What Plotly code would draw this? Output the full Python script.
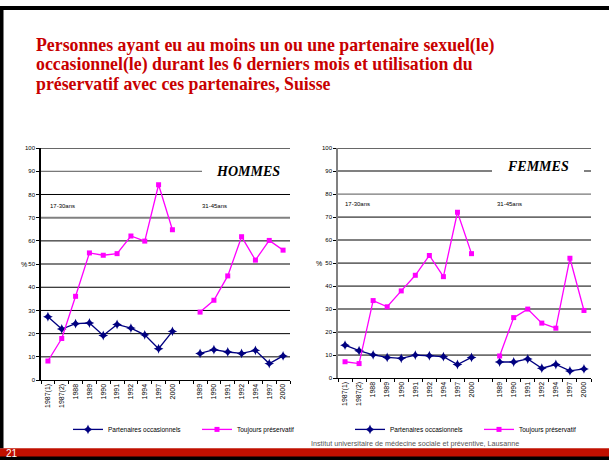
import plotly.graph_objects as go

W, H = 609, 463

categories = ["1987(1)", "1987(2)", "1988", "1989", "1990", "1991", "1992", "1994", "1997", "2000",
              "", "1989", "1990", "1991", "1992", "1994", "1997", "2000"]

hommes_partenaires = [27.3, 22.0, 24.3, 24.6, 19.2, 24.0, 22.4, 19.5, 13.5, 21.0,
                      None, 11.5, 13.1, 12.1, 11.5, 12.8, 7.1, 10.4]
hommes_preservatif = [8.2, 17.9, 36.1, 54.8, 53.8, 54.5, 62.1, 59.9, 84.2, 64.8,
                      None, 29.3, 34.4, 44.9, 61.8, 51.7, 60.2, 56.0]
femmes_partenaires = [14.3, 11.9, 10.1, 9.0, 8.6, 10.0, 9.7, 9.3, 5.9, 9.0,
                      None, 7.0, 7.0, 8.3, 4.3, 5.9, 3.1, 4.0]
femmes_preservatif = [7.1, 6.3, 33.7, 31.0, 37.9, 44.7, 53.3, 44.1, 72.1, 54.1,
                      None, 9.6, 26.3, 30.0, 23.9, 21.7, 52.1, 29.4]

title_lines = ["Personnes ayant eu au moins un ou une partenaire sexuel(le)",
               "occasionnel(le) durant les 6 derniers mois et utilisation du",
               "préservatif avec ces partenaires, Suisse"]

NAVY = "#000080"
MAGENTA = "#FF00FF"
RED = "#C80000"
NARROW = "Liberation Sans Narrow, Arial Narrow, Liberation Sans, Arial"
SANS = "Liberation Sans, Arial"
SERIF = "Liberation Serif, Times New Roman, serif"


def px_x(x):
    return x / W


def px_y(y):
    return 1 - y / H


xs = list(range(len(categories)))
fig = go.Figure()

panels = [
    ("x", "y", "legend", hommes_partenaires, hommes_preservatif),
    ("x2", "y2", "legend2", femmes_partenaires, femmes_preservatif),
]
for xa, ya, leg, part, pres in panels:
    fig.add_trace(go.Scatter(
        x=xs, y=part, xaxis=xa, yaxis=ya, legend=leg,
        name="Partenaires occasionnels", mode="lines+markers",
        line=dict(color=NAVY, width=1.3),
        marker=dict(symbol="star-diamond", size=7, color=NAVY),
    ))
    fig.add_trace(go.Scatter(
        x=xs, y=pres, xaxis=xa, yaxis=ya, legend=leg,
        name="Toujours préservatif", mode="lines+markers",
        line=dict(color=MAGENTA, width=1.3),
        marker=dict(symbol="square", size=5, color=MAGENTA),
    ))

xaxis_common = dict(
    range=[-0.5, len(categories) - 0.5],
    tickmode="array", tickvals=xs, ticktext=categories,
    tickangle=-90, ticks="", showgrid=False, zeroline=False,
    showline=True, linecolor="black", linewidth=1,
    tickfont=dict(family=SANS, size=7, color="black"),
    minor=dict(tickmode="linear", tick0=-0.5, dtick=1, ticks="outside",
               ticklen=3, tickcolor="black", showgrid=False),
)
yaxis_common = dict(
    range=[0, 100], dtick=10, showgrid=False,
    zeroline=False, ticks="outside", ticklen=3, tickcolor="black",
    showline=True, linewidth=1.5,
    tickfont=dict(family=NARROW, size=6, color="black"),
)

legend_common = dict(orientation="h", xanchor="left", yanchor="middle",
                     entrywidth=84, entrywidthmode="pixels", itemwidth=30,
                     bgcolor="rgba(0,0,0,0)", font=dict(family=NARROW, size=6.5, color="black"))

fig.update_layout(
    width=W, height=H,
    margin=dict(l=0, r=0, t=0, b=0),
    paper_bgcolor="white", plot_bgcolor="white",
    xaxis=dict(domain=[px_x(41), px_x(290)], anchor="y", **xaxis_common),
    yaxis=dict(domain=[px_y(382), px_y(147)], anchor="x", linecolor="black", **yaxis_common),
    xaxis2=dict(domain=[px_x(338), px_x(591)], anchor="y2", **xaxis_common),
    yaxis2=dict(domain=[px_y(380), px_y(147)], anchor="x2", linecolor="#808080", **yaxis_common),
    legend=dict(x=px_x(68), y=px_y(432), **legend_common),
    legend2=dict(x=px_x(350), y=px_y(432), **legend_common),
    showlegend=True,
)

# grid lines, some rendered grey and thicker as in the original slide
grid_styles = {
    "y": {90: ("#555555", 1), 70: ("#808080", 2), 50: ("#808080", 2)},
    "y2": {90: ("#808080", 2), 80: ("#555555", 1), 60: ("#808080", 2), 30: ("#808080", 2)},
}
for ya, xd in [("y", "x domain"), ("y2", "x2 domain")]:
    for v in range(10, 101, 10):
        c, w = grid_styles[ya].get(v, ("black", 1))
        fig.add_shape(type="line", xref=xd, x0=0, x1=1, yref=ya, y0=v, y1=v,
                      line=dict(color=c, width=w), layer="below")

# white boxes behind the panel titles
fig.add_shape(type="rect", xref="paper", x0=px_x(202), x1=px_x(292), yref="y", y0=86, y1=95,
              fillcolor="white", line=dict(width=0), layer="below")
fig.add_shape(type="rect", xref="paper", x0=px_x(492), x1=px_x(584), yref="y2", y0=86, y1=96,
              fillcolor="white", line=dict(width=0), layer="below")

# slide frame and footer
fig.add_shape(type="rect", xref="paper", yref="paper", x0=0, x1=1, y0=px_y(463), y1=px_y(451),
              fillcolor="#C01000", line=dict(width=0), layer="above")
fig.add_shape(type="rect", xref="paper", yref="paper", x0=0, x1=1, y0=0, y1=px_y(459.5),
              fillcolor="black", line=dict(width=0), layer="above")
fig.add_shape(type="rect", xref="paper", yref="paper", x0=0, x1=px_x(3.5), y0=px_y(451), y1=px_y(3),
              fillcolor="black", line=dict(width=0), layer="above")
fig.add_shape(type="rect", xref="paper", yref="paper", x0=0, x1=1, y0=px_y(7), y1=px_y(3),
              fillcolor="black", line=dict(width=0), layer="above")

annotations = []
for line, yc in zip(title_lines, [43, 62.5, 82]):
    annotations.append(dict(
        text="<b>" + line + "</b>", xref="paper", yref="paper",
        x=px_x(34), y=px_y(yc), xanchor="left", yanchor="middle", showarrow=False,
        font=dict(family=SERIF, size=17.8, color=RED),
    ))

annotations += [
    dict(text="<b><i>HOMMES</i></b>", xref="paper", yref="y", x=px_x(248), y=90,
         xanchor="center", yanchor="middle", showarrow=False,
         font=dict(family=SERIF, size=14, color="black")),
    dict(text="<b><i>FEMMES</i></b>", xref="paper", yref="y2", x=px_x(538), y=92.2,
         xanchor="center", yanchor="middle", showarrow=False,
         font=dict(family=SERIF, size=14, color="black")),
    dict(text="17-30ans", xref="x", yref="y", x=0, y=75, xanchor="left", yanchor="middle",
         showarrow=False, font=dict(family=NARROW, size=6, color="black")),
    dict(text="31-45ans", xref="x", yref="y", x=11, y=75, xanchor="left", yanchor="middle",
         showarrow=False, font=dict(family=NARROW, size=6, color="black")),
    dict(text="17-30ans", xref="x2", yref="y2", x=-0.15, y=75.5, xanchor="left", yanchor="middle",
         showarrow=False, font=dict(family=NARROW, size=6, color="black")),
    dict(text="31-45ans", xref="x2", yref="y2", x=10.7, y=75.5, xanchor="left", yanchor="middle",
         showarrow=False, font=dict(family=NARROW, size=6, color="black")),
    dict(text="%", xref="paper", yref="y", x=px_x(24), y=50, xanchor="center", yanchor="middle",
         showarrow=False, font=dict(family=SANS, size=7, color="black")),
    dict(text="%", xref="paper", yref="y2", x=px_x(319), y=50, xanchor="center", yanchor="middle",
         showarrow=False, font=dict(family=SANS, size=7, color="black")),
    dict(text="Institut universitaire de médecine sociale et préventive, Lausanne",
         xref="paper", yref="paper", x=px_x(415), y=px_y(446), xanchor="center", yanchor="middle",
         showarrow=False, font=dict(family=SANS, size=7.2, color="#555555")),
    dict(text="21", xref="paper", yref="paper", x=px_x(4), y=px_y(456), xanchor="left",
         yanchor="middle", showarrow=False, font=dict(family=SANS, size=10, color="white")),
]
fig.update_layout(annotations=annotations)

fig.write_html("out.html", config={"displayModeBar": False},
               post_script="document.body.style.margin='0';")
